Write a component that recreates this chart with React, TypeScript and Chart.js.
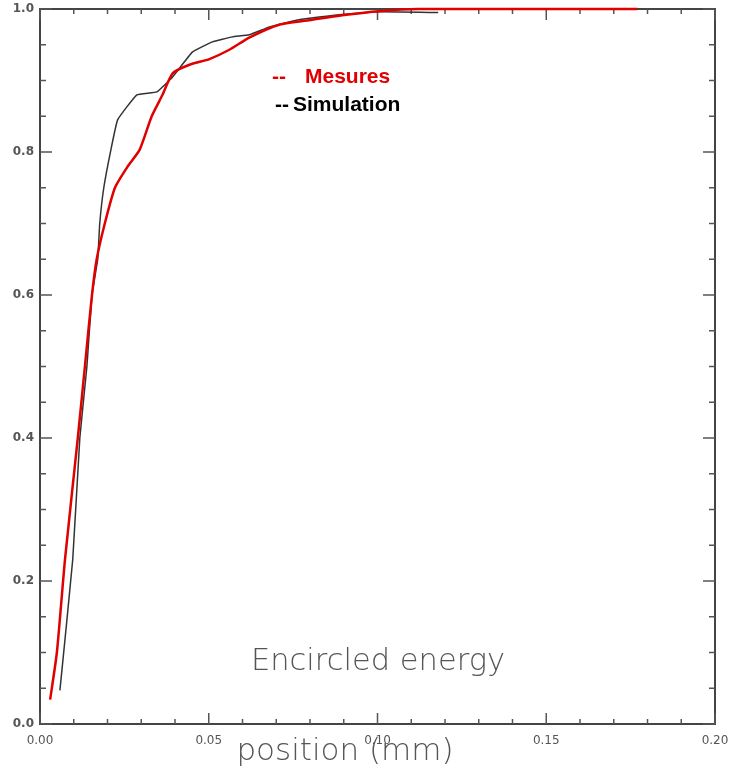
import React, { useEffect, useRef } from "react";
import { Chart, registerables } from "chart.js";

Chart.register(...registerables);

// Mesures (red)
const mesuresX = [0.003, 0.005, 0.0074, 0.0112, 0.0133, 0.0154, 0.0168, 0.0192, 0.0222, 0.026, 0.0295, 0.0331, 0.0363, 0.0393, 0.0443, 0.0502, 0.0561, 0.062, 0.0709, 0.0806, 0.0907, 0.1004, 0.112, 0.177];
const mesuresY = [0.034, 0.1, 0.23, 0.4, 0.5, 0.6, 0.65, 0.7, 0.75, 0.78, 0.803, 0.85, 0.88, 0.91, 0.922, 0.93, 0.943, 0.96, 0.978, 0.985, 0.992, 0.997, 1.0, 1.0];

// Simulation (black)
const simX = [0.0059, 0.0097, 0.0118, 0.0139, 0.0154, 0.0171, 0.0177, 0.0189, 0.021, 0.023, 0.0287, 0.0346, 0.0393, 0.0452, 0.0511, 0.057, 0.062, 0.068, 0.0768, 0.0886, 0.1004, 0.118];
const simY = [0.047, 0.23, 0.4, 0.5, 0.6, 0.65, 0.7, 0.75, 0.803, 0.845, 0.88, 0.884, 0.905, 0.94, 0.954, 0.961, 0.964, 0.975, 0.985, 0.992, 0.996, 0.995];

const xTickValues = [0, 0.05, 0.1, 0.15, 0.2];
const yTickValues = [0, 0.2, 0.4, 0.6, 0.8, 1.0];

const legendLabels = ["Mesures", "Simulation"];
const chartTitle = "Encircled energy";
const xTitle = "position (mm)";

const framePlugin = {
  id: "framePlugin",
  beforeDatasetsDraw(chart: any) {
    const { ctx, chartArea } = chart;
    const xs = chart.scales.x;
    const ys = chart.scales.y;
    ctx.save();
    ctx.strokeStyle = "#444";
    ctx.lineWidth = 2;
    ctx.strokeRect(chartArea.left, chartArea.top, chartArea.right - chartArea.left, chartArea.bottom - chartArea.top);
    ctx.lineWidth = 1.5;
    ctx.strokeStyle = "#555";
    for (let i = 0; i <= 20; i++) {
      const v = i * 0.01;
      const px = xs.getPixelForValue(v);
      const len = i % 5 === 0 ? 11 : 5;
      ctx.beginPath();
      ctx.moveTo(px, chartArea.bottom);
      ctx.lineTo(px, chartArea.bottom - len);
      ctx.moveTo(px, chartArea.top);
      ctx.lineTo(px, chartArea.top + len);
      ctx.stroke();
    }
    for (let i = 0; i <= 20; i++) {
      const v = i * 0.05;
      const py = ys.getPixelForValue(v);
      const len = i % 4 === 0 ? 12 : 6;
      ctx.beginPath();
      ctx.moveTo(chartArea.left, py);
      ctx.lineTo(chartArea.left + len, py);
      ctx.moveTo(chartArea.right, py);
      ctx.lineTo(chartArea.right - len, py);
      ctx.stroke();
    }
    ctx.restore();
  },
  afterDraw(chart: any) {
    const { ctx } = chart;
    ctx.save();
    ctx.fillStyle = "#555";
    ctx.font = "300 30.5px 'DejaVu Sans'";
    ctx.textAlign = "center";
    ctx.textBaseline = "middle";
    ctx.fillText(chartTitle, 378, 662);
    ctx.font = "300 31px 'DejaVu Sans'";
    ctx.fillText(xTitle, 345, 752);
    ctx.textAlign = "left";
    ctx.font = "bold 21px 'Liberation Sans'";
    ctx.fillStyle = "#e00000";
    ctx.fillText("--", 272, 77);
    ctx.fillText(legendLabels[0], 305, 77);
    ctx.fillStyle = "#000";
    ctx.fillText("--", 275, 105);
    ctx.fillText(legendLabels[1], 293, 105);
    ctx.restore();
  },
};

export default function App() {
  const ref = useRef<HTMLCanvasElement | null>(null);
  useEffect(() => {
    if (!ref.current) return;
    const chart = new Chart(ref.current, {
      type: "line",
      data: {
        datasets: [
          {
            label: legendLabels[0],
            data: mesuresX.map((x, i) => ({ x, y: mesuresY[i] })),
            borderColor: "#e00000",
            borderWidth: 2.5,
            pointRadius: 0,
            tension: 0.2,
            clip: false as any,
          },
          {
            label: legendLabels[1],
            data: simX.map((x, i) => ({ x, y: simY[i] })),
            borderColor: "#333",
            borderWidth: 1.5,
            pointRadius: 0,
            tension: 0.1,
            clip: false as any,
          },
        ],
      },
      options: {
        responsive: false,
        animation: false,
        layout: { padding: { top: 9, right: 18, left: 0, bottom: 0 } },
        plugins: { legend: { display: false }, tooltip: { enabled: false }, title: { display: false } },
        scales: {
          x: {
            type: "linear",
            min: 0,
            max: 0.2,
            grid: { display: false, drawTicks: false },
            border: { display: false },
            afterFit: (s: any) => { s.height = 49; s.paddingLeft = 0; s.paddingRight = 0; },
            afterBuildTicks: (s: any) => { s.ticks = xTickValues.map((v) => ({ value: v })); },
            ticks: {
              padding: 10,
              color: "#555",
              font: { family: "'DejaVu Sans'", size: 12 },
              maxRotation: 0,
              autoSkip: false,
              callback: (v: any) => Number(v).toFixed(2),
            },
          },
          y: {
            type: "linear",
            min: 0,
            max: 1,
            grid: { display: false, drawTicks: false },
            border: { display: false },
            afterFit: (s: any) => { s.width = 40; s.paddingTop = 0; s.paddingBottom = 0; },
            afterBuildTicks: (s: any) => { s.ticks = yTickValues.map((v) => ({ value: v })); },
            ticks: {
              padding: 6,
              color: "#555",
              font: { family: "'DejaVu Sans'", size: 12, weight: "bold" },
              autoSkip: false,
              callback: (v: any) => Number(v).toFixed(1),
            },
          },
        },
      },
      plugins: [framePlugin],
    });
    return () => chart.destroy();
  }, []);
  return (
    <div style={{ position: "absolute", left: 0, top: 0, width: 733, height: 773, background: "#fff" }}>
      <canvas ref={ref} width={733} height={773} style={{ display: "block" }} />
    </div>
  );
}
